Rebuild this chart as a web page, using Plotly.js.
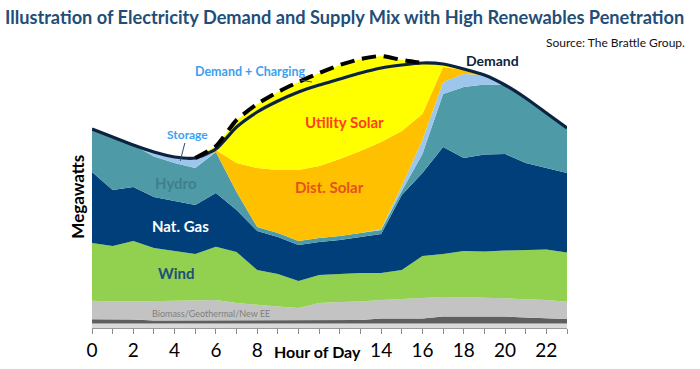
<!DOCTYPE html>
<html><head><meta charset="utf-8">
<script src="https://cdn.plot.ly/plotly-3.0.1.min.js"></script>
<style>html,body{margin:0;padding:0;background:#fff}#chart{width:700px;height:369px}</style>
</head><body><div id="chart"></div>
<script>
// Hours of the day
const hours = [0,1,2,3,4,5,6,7,8,9,10,11,12,13,14,15,16,17,18,19,20,21,22,23];
const tickText = ['0','','2','','4','','6','','8','','','','','','14','','16','','18','','20','','22',''];

// Supply mix (stacked, arbitrary MW units)
const otherBase   = [4.5,4.5,4.5,4.5,4.5,4.5,4.5,4.5,4.5,4.5,4.5,4.5,4.5,4.5,4.5,4.5,4.5,4.5,4.5,4.5,4.5,4.5,4.5,4.5];
const otherDark   = [4.2,4.2,4,3,3,3,3,3.5,3.5,3.5,3.5,3.5,3.5,3.5,5,5,5,7,7,7,7,6,5.5,4.5];
const biomass     = [18.6,17.8,18,19.5,19.5,20,20.5,17,15,13.5,12,17,18,18.5,18.5,19.5,21,19.5,19.2,18.8,18.2,18.2,18,17.3];
const wind        = [57.7,55.5,60.5,53,50,46.5,53.3,51,35,32.5,27,28,28,28.5,27,29,41.5,43,46.3,46.2,47.8,49.3,50.5,49.2];
const natGas      = [71,56,54,51,50,49,53.7,42,39,37,36,33,34,36,39,75,83,107,93,97,96.5,87,81.5,79.5];
const hydro       = [43,53,42,40.5,38,37,41,18,4,4,4,4,4,4,4,4,19,53,71,70,69,65,55,45];
const storage     = [0,0,0,4.5,6,10,0,0,0,0,0,0,0,0,1,5,14,12,13,9.5,0,0,0,0];
const distSolar   = [0,0,0,0,0,0,2,29,59,63,71,72,77,82,87,55,26,15,4,0,0,0,0,0];
const utilSolar   = [0,0,0,0,0,0,4,43,64,78,88,93,94,92,86,71,51,3,1,0,0,0,0,0];

// Demand lines
const demand      = [199,191,183,176,171,170,179,201,216,227,236,243,249,255,260,263,265,264,259,253,243,230,215,200];
const chargeHours = [5,6,7,8,9,10,11,12,13,14,15,16];
const demandPlusCharging = [170,182,208,224,236,246,255,263,269,272,268,265];

const FONT = 'Lato, "Open Sans", sans-serif';

function layer(name, y, color) {
  return {type:'scatter', mode:'lines', name:name, x:hours, y:y, stackgroup:'supply',
          line:{width:0, shape:'linear'}, fillcolor:color, hoverinfo:'skip'};
}

const traces = [
  layer('Other', otherBase, '#d9d9d9'),
  layer('Other2', otherDark, '#5f5f5f'),
  layer('Biomass/Geothermal/New EE', biomass, '#c3c3c3'),
  layer('Wind', wind, '#92d050'),
  layer('Nat. Gas', natGas, '#013f7a'),
  layer('Hydro', hydro, '#4e9ba7'),
  layer('Storage', storage, '#9cc6ec'),
  layer('Dist. Solar', distSolar, '#ffc000'),
  layer('Utility Solar', utilSolar, '#ffff00'),
  {type:'scatter', mode:'lines', name:'Demand', x:hours, y:demand,
   line:{color:'#0c2340', width:3.2, shape:'spline', smoothing:0.6}, hoverinfo:'skip'},
  {type:'scatter', mode:'lines', name:'Demand + Charging', x:chargeHours, y:demandPlusCharging,
   line:{color:'#000000', width:4, dash:'14px,8px', shape:'spline', smoothing:0.6}, hoverinfo:'skip'}
];

const ann = (text, x, y, size, color, extra) => Object.assign({
  text:text, x:x, y:y, xref:'x', yref:'y', showarrow:false,
  font:{family:FONT, size:size, color:color, weight:'bold'}
}, extra || {});

const layout = {
  width:700, height:369,
  margin:{l:92, r:133, t:48, b:41},
  paper_bgcolor:'#ffffff', plot_bgcolor:'#ffffff',
  showlegend:false,
  title:{text:'Illustration of Electricity Demand and Supply Mix with High Renewables Penetration',
         x:0.007, xanchor:'left', xref:'container', y:0.953, yanchor:'middle', yref:'container',
         font:{family:FONT, size:18.2, color:'#1f4e79', weight:'bold'}},
  xaxis:{range:[0,23], tickvals:hours, ticktext:tickText, ticks:'outside', ticklen:5,
         tickcolor:'#8c8c8c', showline:true, linecolor:'#9a9a9a', linewidth:1,
         showgrid:false, zeroline:false, fixedrange:true,
         tickfont:{family:FONT, size:19, color:'#000'}},
  yaxis:{range:[0,280], showticklabels:false, showgrid:false, zeroline:false, showline:false, ticks:'', fixedrange:true},
  annotations:[
    ann('Utility Solar', 12.25, 206, 15, '#ff3d1f'),
    ann('Dist. Solar', 11.5, 141, 15, '#e4521f'),
    ann('Hydro', 4.05, 145, 15, '#3e7f8b'),
    ann('Nat. Gas', 4.3, 102, 15, '#ffffff'),
    ann('Wind', 4.05, 55, 15, '#1f4e79'),
    ann('Biomass/Geothermal/New EE', 5.77, 15, 9, '#7f7f7f', {font:{family:FONT, size:9, color:'#7f7f7f'}}),
    ann('Storage', 4.27, 167, 12, '#3d9ff0', {showarrow:true, arrowhead:0, arrowwidth:1, arrowcolor:'#2e4f6e', ax:7, ay:-27, standoff:0}),
    ann('Demand + Charging', 10.65, 246, 12.5, '#3d9ff0', {showarrow:true, arrowhead:0, arrowwidth:1, arrowcolor:'#2e4f6e', ax:-62, ay:-11, standoff:0}),
    ann('Demand', 19.4, 268, 14, '#0c2340'),
    {text:'Source: The Brattle Group.', xref:'paper', yref:'paper', x:1.2526, y:1.021, xanchor:'right', yanchor:'middle',
     showarrow:false, font:{family:FONT, size:12, color:'#111'}},
    {text:'Megawatts', xref:'paper', yref:'paper', x:-0.031, y:0.47, xanchor:'center', yanchor:'middle', textangle:-90, showarrow:false,
     font:{family:FONT, size:17, color:'#000', weight:'bold'}},
    {text:'Hour of Day', xref:'x', yref:'paper', x:10.9, y:-0.085, yanchor:'middle', showarrow:false,
     bgcolor:'#ffffff', font:{family:FONT, size:16, color:'#000', weight:'bold'}}
  ]
};

Plotly.newPlot('chart', traces, layout, {staticPlot:true, displayModeBar:false});
</script>
</body></html>
